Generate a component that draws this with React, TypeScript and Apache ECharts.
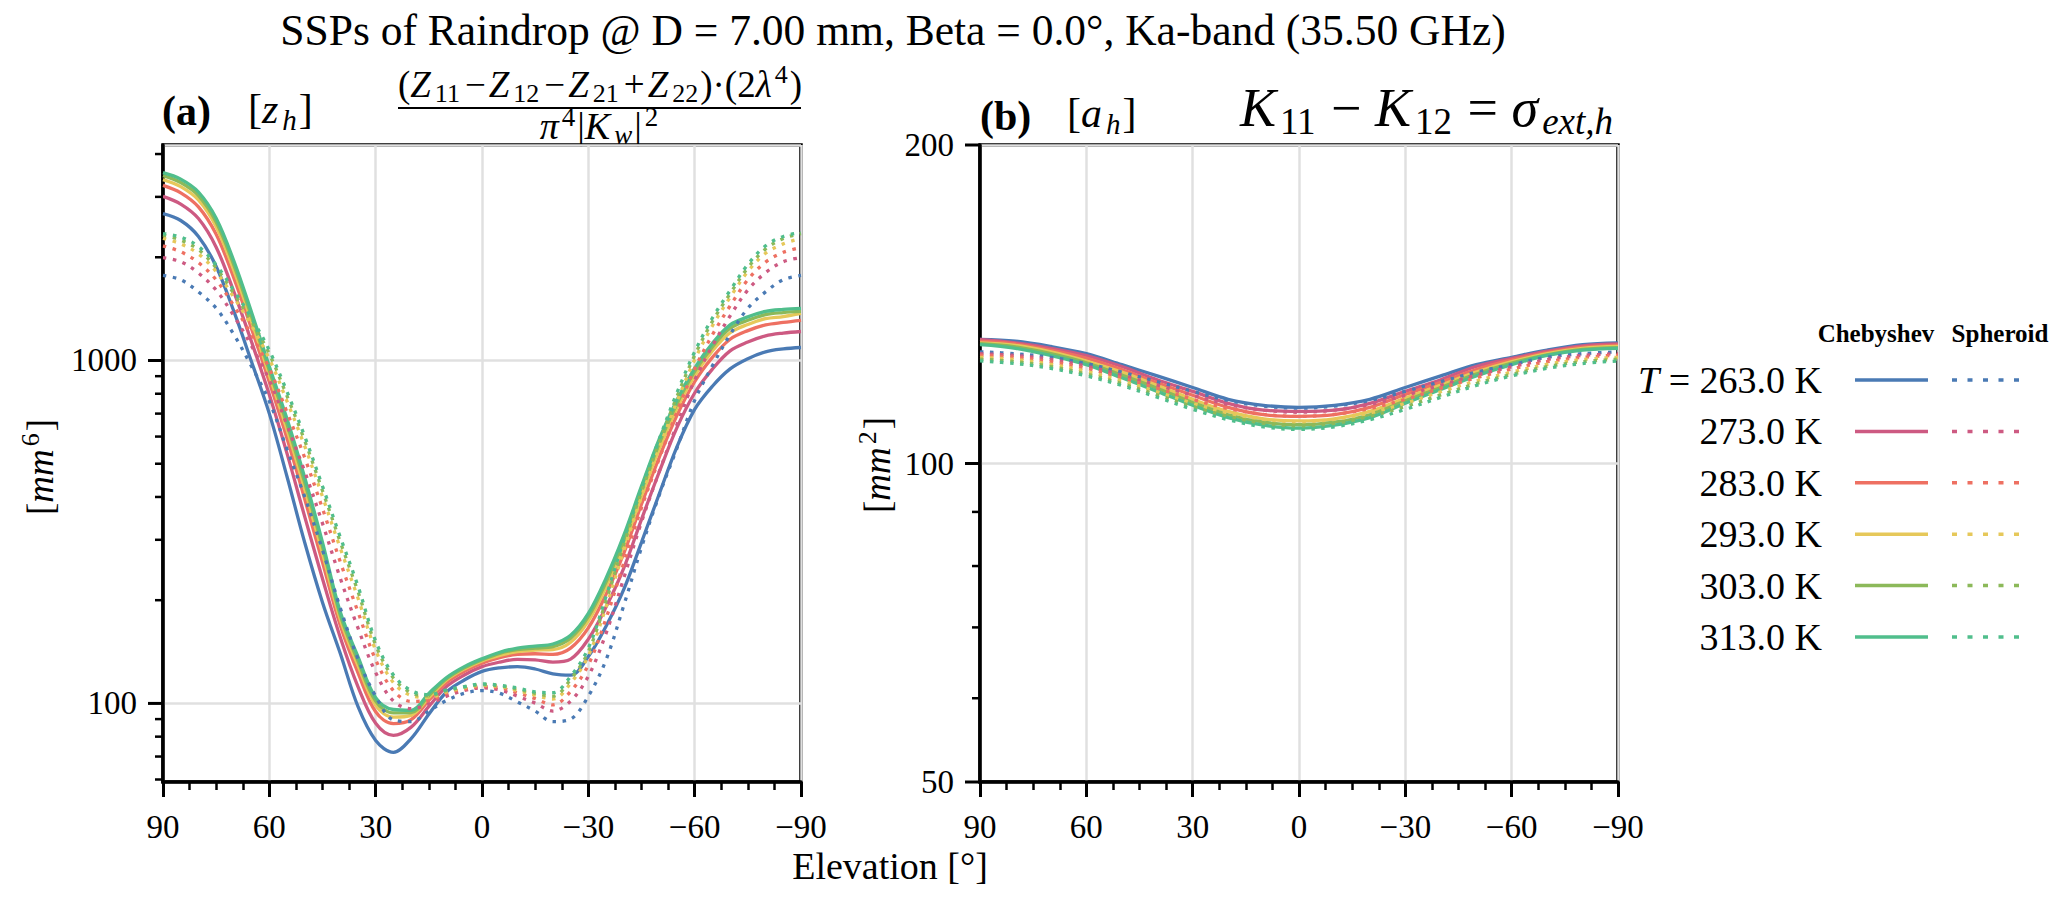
import { useEffect, useRef } from "react";
import * as echarts from "echarts";

const SERIF = '"Liberation Serif", "Times New Roman", serif';

// elevation grids (deg)
const elevA = [90, 85, 80, 75, 70, 65, 60, 55, 50, 45, 40, 35, 30, 25, 20, 15, 10, 5, 0, -5, -10, -15, -20, -25, -30, -35, -40, -45, -50, -55, -60, -65, -70, -75, -80, -85, -90];
const elevB = [90, 80, 70, 60, 50, 40, 30, 20, 10, 0, -10, -20, -30, -40, -50, -60, -70, -80, -90];

const temps = ["263.0", "273.0", "283.0", "293.0", "303.0", "313.0"];
const colors = ["#4a7ab4", "#cd5a82", "#ee7062", "#e6c85a", "#8cb95a", "#50be8c"];

// (a) z_h [mm^6] - Chebyshev (solid)
const zhCheb263 = [2680, 2560, 2300, 1880, 1390, 990, 700, 458, 294, 197, 140, 98, 78, 72, 79, 93, 108, 117, 124, 127, 128, 126, 122, 121, 137, 168, 215, 295, 408, 560, 720, 841, 945, 1012, 1060, 1081, 1091];
const zhCheb273 = [3010, 2858, 2594, 2140, 1585, 1132, 794, 535, 350, 231, 156, 112, 87.5, 80.7, 85.3, 98, 112, 121, 128, 132, 134.5, 134, 132, 134.7, 154, 191, 248, 344, 473, 637, 804, 944, 1067, 1132, 1180, 1202, 1215];
const zhCheb283 = [3240, 3083, 2805, 2333, 1738, 1236, 865, 592, 394, 258, 169, 123, 94.6, 87.3, 89.7, 102, 115, 124, 131, 136, 139, 139.6, 139, 145, 166, 208, 274, 381, 522, 692, 867, 1021, 1153, 1222, 1270, 1291, 1309];
const zhCheb293 = [3370, 3214, 2938, 2455, 1832, 1300, 906, 628, 421, 274, 176, 129, 98.8, 91.2, 92.3, 104, 117, 126, 133, 138, 141.6, 143, 143.5, 150.7, 174, 219, 290, 403, 552, 726, 904, 1067, 1205, 1274, 1324, 1343, 1372];
const zhCheb303 = [3460, 3304, 3027, 2535, 1897, 1343, 935, 652, 440, 286, 181, 133, 101.6, 93.8, 94, 105.5, 118, 127, 134, 140, 143.5, 145, 146.5, 155, 179, 226, 300, 419, 573, 748, 929, 1096, 1242, 1310, 1361, 1380, 1390];
const zhCheb313 = [3530, 3380, 3100, 2600, 1950, 1380, 960, 675, 455, 295, 185, 137, 104, 96, 95.5, 107, 119, 128, 135, 141, 145, 147, 149, 158, 183, 232, 309, 430, 590, 767, 950, 1122, 1270, 1340, 1390, 1409, 1419];

// (a) z_h [mm^6] - Spheroid (dotted)
const zhSph263 = [1770, 1720, 1585, 1420, 1190, 960, 760, 550, 400, 280, 190, 135, 105, 89.5, 88.5, 95, 102, 107, 109, 107, 101, 95, 88.5, 90, 105, 134, 193, 285, 405, 555, 765, 965, 1190, 1420, 1585, 1720, 1770];
const zhSph273 = [1995, 1941, 1800, 1604, 1349, 1101, 877, 647, 474, 335, 232, 166, 123, 101.6, 96.6, 99.5, 105, 109, 111, 109.5, 105, 100.2, 95, 101.6, 120, 160, 232, 338, 474, 650, 877, 1103, 1349, 1606, 1803, 1941, 1995];
const zhSph283 = [2160, 2075, 1930, 1718, 1443, 1186, 948, 706, 520, 370, 259, 185, 134, 109, 101.4, 102, 107, 110, 112, 111, 107.4, 103.3, 99, 108.4, 129.5, 177, 257, 372, 517, 708, 946, 1188, 1443, 1720, 1936, 2068, 2135];
const zhSph293 = [2270, 2188, 2045, 1816, 1528, 1262, 1012, 760, 562, 401, 284, 203, 143, 115, 105.4, 104, 108, 111, 113, 112, 109, 105.7, 103, 114.5, 137.6, 191, 279, 400, 556, 760, 1005, 1262, 1528, 1818, 2055, 2188, 2270];
const zhSph303 = [2320, 2244, 2105, 1862, 1567, 1300, 1045, 787, 583, 417, 296, 212, 148, 118.6, 107.4, 105.2, 109, 111.6, 113.5, 112.5, 110, 107, 105, 117.5, 141.6, 199, 291, 414, 575, 785, 1035, 1300, 1567, 1864, 2113, 2270, 2345];
const zhSph313 = [2345, 2290, 2150, 1900, 1600, 1330, 1070, 810, 600, 430, 306, 220, 152, 121, 109, 106, 109.5, 112, 114, 113, 111, 108, 107.5, 120, 145, 205, 300, 425, 590, 805, 1060, 1330, 1600, 1905, 2160, 2300, 2360];

// (b) a_h [mm^2] - Chebyshev (solid)
const ahCheb263 = [131, 130.5, 129, 127, 124, 121, 118, 115, 113.5, 113, 113.5, 115, 118, 121, 124, 126, 128, 129.5, 130];
const ahCheb273 = [131, 130, 128.5, 126.5, 123.5, 120, 117, 114, 112.3, 112, 112.3, 114, 117, 120, 123.5, 125.7, 127.7, 129.2, 129.7];
const ahCheb283 = [130.5, 129.7, 128, 125.8, 122.7, 119.2, 116, 113, 111.2, 110.8, 111.2, 113, 116.2, 119.3, 122.7, 125.3, 127.3, 128.8, 129.4];
const ahCheb293 = [130, 129.3, 127.5, 125, 122, 118.5, 115, 112, 110.2, 109.7, 110.2, 112, 115.3, 118.6, 122, 124.8, 127, 128.5, 129];
const ahCheb303 = [129.8, 128.9, 127, 124.5, 121.2, 117.8, 114.2, 111.2, 109.4, 108.8, 109.4, 111.2, 114.6, 118, 121.5, 124.4, 126.7, 128.2, 128.7];
const ahCheb313 = [129.5, 128.5, 126.5, 124, 120.5, 117, 113.5, 110.5, 108.7, 108, 108.7, 110.5, 114, 117.5, 121, 124, 126.5, 128, 128.5];

// (b) a_h [mm^2] - Spheroid (dotted)
const ahSph263 = [127.5, 127, 126, 124.3, 122, 119.5, 117, 114.7, 113.3, 112.8, 113.3, 114.7, 117, 119.5, 122, 124, 126, 127, 127.5];
const ahSph273 = [127, 126.5, 125.4, 123.6, 121.2, 118.6, 116, 113.7, 112.3, 111.8, 112.3, 113.7, 116, 118.6, 121.2, 123.4, 125.4, 126.5, 127];
const ahSph283 = [126.6, 126, 124.8, 123, 120.5, 117.8, 115, 112.7, 111.3, 110.8, 111.3, 112.7, 115, 117.8, 120.5, 122.8, 124.8, 126, 126.6];
const ahSph293 = [126, 125.4, 124.1, 122.2, 119.7, 116.9, 114, 111.6, 110.1, 109.5, 110.1, 111.6, 114, 116.9, 119.7, 122, 124.1, 125.4, 126];
const ahSph303 = [125.5, 124.8, 123.5, 121.5, 119, 116.1, 113.2, 110.8, 109.1, 108.5, 109.1, 110.8, 113.2, 116.1, 119, 121.4, 123.5, 124.8, 125.5];
const ahSph313 = [125, 124.3, 123, 121, 118.5, 115.5, 112.5, 110, 108.3, 107.7, 108.3, 110, 112.5, 115.5, 118.5, 121, 123, 124.3, 125];

// y tick positions (log axes)
const yMajorA = [100, 1000];
const yMinorA = [60, 70, 80, 90, 200, 300, 400, 500, 600, 700, 800, 900, 2000, 3000, 4000];
const yMajorB = [50, 100, 200];
const yMinorB = [60, 70, 80, 90];

const chebA = [zhCheb263, zhCheb273, zhCheb283, zhCheb293, zhCheb303, zhCheb313];
const sphA = [zhSph263, zhSph273, zhSph283, zhSph293, zhSph303, zhSph313];
const chebB = [ahCheb263, ahCheb273, ahCheb283, ahCheb293, ahCheb303, ahCheb313];
const sphB = [ahSph263, ahSph273, ahSph283, ahSph293, ahSph303, ahSph313];

const GRID_TOP = 145;
const GRID_H = 637;
const GRID_W = 638;
const LEFT_A = 163;
const LEFT_B = 980;

function rich(M: number, S: number) {
  const lh = M * 1.2;
  return {
    m: { fontSize: M, fontFamily: SERIF, lineHeight: lh, fill: "#000" },
    o: { fontSize: M, fontFamily: SERIF, lineHeight: lh, padding: [0, 3, 0, 3], fill: "#000" },
    i: { fontSize: M, fontFamily: SERIF, fontStyle: "italic", lineHeight: lh, fill: "#000" },
    s: { fontSize: S, fontFamily: SERIF, fontStyle: "italic", lineHeight: S, verticalAlign: "bottom", padding: [0, 2, 0, 4], fill: "#000" },
    n: { fontSize: S, fontFamily: SERIF, lineHeight: S, verticalAlign: "bottom", padding: [0, 2, 0, 4], fill: "#000" },
    p: { fontSize: S, fontFamily: SERIF, lineHeight: S, verticalAlign: "top", padding: [0, 2, 0, 3], fill: "#000" },
  };
}

function richText(x: number, y: number, text: string, M: number, S: number, align = "left", extra: any = {}) {
  return {
    type: "text",
    x,
    y,
    silent: true,
    ...extra,
    style: { text, rich: rich(M, S), align, verticalAlign: "middle" },
  };
}

function plainText(x: number, y: number, text: string, size: number, align = "center", weight = "normal") {
  return {
    type: "text",
    x,
    y,
    silent: true,
    style: { text, fontSize: size, fontFamily: SERIF, fontWeight: weight, fill: "#000", align, verticalAlign: "middle" },
  };
}

function lineSeries(name: string, g: number, xs: number[], ys: number[], color: string, dotted: boolean) {
  return {
    type: "line",
    name,
    xAxisIndex: g,
    yAxisIndex: g,
    data: xs.map((x, i) => [x, ys[i]]),
    showSymbol: false,
    symbol: "none",
    smooth: 0.35,
    silent: true,
    z: dotted ? 4 : 3,
    lineStyle: { color, width: 3.3, type: dotted ? [3.5, 6.5] : "solid", cap: "butt" },
  };
}

function tickSeries(g: number, major: number[], minor: number[]) {
  return {
    type: "custom",
    xAxisIndex: g,
    yAxisIndex: g,
    clip: false,
    silent: true,
    z: 10,
    data: [...major.map((v) => [90, v, 15]), ...minor.map((v) => [90, v, 8])],
    renderItem: (_params: any, api: any) => {
      const p = api.coord([90, api.value(1)]);
      const len = api.value(2);
      return {
        type: "line",
        shape: { x1: p[0] - len, y1: p[1], x2: p[0], y2: p[1] },
        style: { stroke: "#000", lineWidth: len > 10 ? 3 : 2.5 },
      };
    },
  };
}

function xAxis(g: number) {
  return {
    type: "value",
    gridIndex: g,
    min: -90,
    max: 90,
    interval: 30,
    inverse: true,
    axisLine: { onZero: false, lineStyle: { color: "#000", width: 3.5 } },
    axisTick: { length: 15, lineStyle: { color: "#000", width: 3 } },
    minorTick: { show: true, splitNumber: 4, length: 8, lineStyle: { color: "#000", width: 2.5 } },
    splitLine: { show: true, lineStyle: { color: "#e0e0e0", width: 2.5 } },
    axisLabel: {
      fontSize: 33,
      fontFamily: SERIF,
      color: "#000",
      margin: 28,
      formatter: (v: number) => (v < 0 ? "\u2212" + String(-v) : String(v)),
    },
  };
}

function yAxis(g: number, min: number, max: number, showEnds: boolean) {
  return {
    type: "log",
    logBase: 10,
    gridIndex: g,
    min,
    max,
    axisLine: { onZero: false, lineStyle: { color: "#000", width: 3.5 } },
    axisTick: { show: false },
    splitLine: { show: true, lineStyle: { color: "#e0e0e0", width: 2.5 } },
    axisLabel: {
      fontSize: 33,
      fontFamily: SERIF,
      color: "#000",
      margin: 26,
      showMinLabel: showEnds,
      showMaxLabel: showEnds,
      formatter: (v: number) => String(Math.round(v)),
    },
  };
}

function buildOption() {
  const series: any[] = [];
  temps.forEach((t, k) => series.push(lineSeries(`Chebyshev ${t} K`, 0, elevA, chebA[k], colors[k], false)));
  temps.forEach((t, k) => series.push(lineSeries(`Spheroid ${t} K`, 0, elevA, sphA[k], colors[k], true)));
  temps.forEach((t, k) => series.push(lineSeries(`Chebyshev ${t} K (b)`, 1, elevB, chebB[k], colors[k], false)));
  temps.forEach((t, k) => series.push(lineSeries(`Spheroid ${t} K (b)`, 1, elevB, sphB[k], colors[k], true)));
  series.push(tickSeries(0, yMajorA, yMinorA));
  series.push(tickSeries(1, yMajorB, yMinorB));

  const legendEls: any[] = [
    plainText(1876, 333, "Chebyshev", 25, "center", "bold"),
    plainText(2000, 333, "Spheroid", 25, "center", "bold"),
  ];
  temps.forEach((t, k) => {
    const y = 380 + k * 51.4;
    const label = k === 0 ? `{i|T}{m| = ${t} K}` : `{m|${t} K}`;
    legendEls.push(richText(1822, y, label, 38, 27, "right"));
    legendEls.push({
      type: "line",
      silent: true,
      shape: { x1: 1855, y1: y, x2: 1928, y2: y },
      style: { stroke: colors[k], lineWidth: 3.5 },
    });
    legendEls.push({
      type: "line",
      silent: true,
      shape: { x1: 1952, y1: y, x2: 2022, y2: y },
      style: { stroke: colors[k], lineWidth: 3.5, lineDash: [5, 10.5] },
    });
  });

  return {
    animation: false,
    backgroundColor: "#ffffff",
    textStyle: { fontFamily: SERIF },
    grid: [
      { left: LEFT_A, top: GRID_TOP, width: GRID_W, height: GRID_H, show: true, borderColor: "#000", borderWidth: 3.5, backgroundColor: "transparent" },
      { left: LEFT_B, top: GRID_TOP, width: GRID_W, height: GRID_H, show: true, borderColor: "#000", borderWidth: 3.5, backgroundColor: "transparent" },
    ],
    xAxis: [xAxis(0), xAxis(1)],
    yAxis: [yAxis(0, 59, 4250, false), yAxis(1, 50, 200, true)],
    series,
    graphic: {
      elements: [
        plainText(893, 30, "SSPs of Raindrop @ D = 7.00 mm, Beta = 0.0°, Ka-band (35.50 GHz)", 43.5),
        plainText(162, 111, "(a)", 42, "left", "bold"),
        richText(248, 109, "{m|[}{i|z}{s|h}{m|]}", 42, 29),
        richText(600, 84, "{m|(}{i|Z}{n|11}{o|\u2212}{i|Z}{n|12}{o|\u2212}{i|Z}{n|21}{o|+}{i|Z}{n|22}{m|)·(2}{i|λ}{p|4}{m|)}", 37, 26, "center"),
        { type: "line", silent: true, shape: { x1: 398, y1: 108, x2: 801, y2: 108 }, style: { stroke: "#000", lineWidth: 2.2 } },
        richText(600, 126, "{i|π}{p|4}{m||}{i|K}{s|w}{m||}{p|2}", 38, 27, "center"),
        plainText(980, 116, "(b)", 42, "left", "bold"),
        richText(1067, 113, "{m|[}{i|a}{s|h}{m|]}", 42, 29),
        richText(1615, 108, "{i|K}{n|11}{m| \u2212 }{i|K}{n|12}{m| = }{i|σ}{s|ext,h}", 54, 37, "right"),
        richText(40, 467, "{m|[}{i|mm}{p|6}{m|]}", 37, 26, "center", { rotation: Math.PI / 2 }),
        richText(877, 465, "{m|[}{i|mm}{p|2}{m|]}", 37, 26, "center", { rotation: Math.PI / 2 }),
        plainText(890, 866, "Elevation [°]", 38),
        ...legendEls,
      ],
    },
  };
}

export default function App() {
  const ref = useRef<HTMLDivElement>(null);

  useEffect(() => {
    if (!ref.current) return;
    const chart = echarts.init(ref.current, null, { renderer: "svg" });
    chart.setOption(buildOption() as any);
    return () => {
      chart.dispose();
    };
  }, []);

  return (
    <div
      ref={ref}
      style={{ position: "fixed", left: 0, top: 0, width: 2067, height: 897, background: "#fff" }}
    />
  );
}
